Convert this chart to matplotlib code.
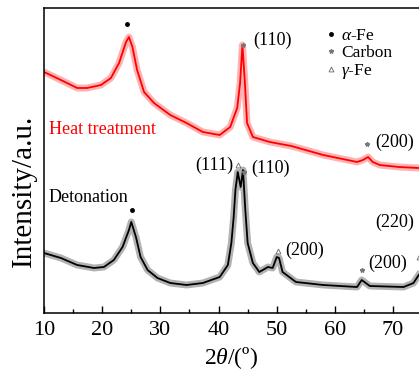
import numpy as np
import matplotlib
matplotlib.use('Agg')
import matplotlib.pyplot as plt
from matplotlib.lines import Line2D
from matplotlib.ticker import MultipleLocator

plt.rcParams['font.family'] = ['Liberation Serif', 'DejaVu Serif']
plt.rcParams['mathtext.fontset'] = 'custom'
plt.rcParams['mathtext.rm'] = 'Liberation Serif'
plt.rcParams['mathtext.it'] = 'Liberation Serif:italic'

# heat treated sample (red)
tt_heat = [10, 12.9, 15.7, 17.4, 19.8, 21.5, 22.9, 24.1, 24.6, 25.2, 26.0, 27.2, 28.9,
           31.7, 34.5, 37.3, 40.2, 42.0, 43.2, 43.7, 44.1, 44.5, 44.9, 45.9, 48.8, 52.5,
           58.0, 63.8, 64.8, 65.7, 66.5, 67.7, 71.0, 74.4]
int_heat = [241, 233, 225, 225, 228, 235, 250, 271, 276, 266, 243, 221, 210,
            198, 190, 181, 178, 186, 205, 230, 268, 233, 190, 176, 171, 167,
            158, 151, 153, 156, 151, 148, 146, 145]

# detonation sample (black)
tt_det = [10, 12.9, 15.7, 18.6, 20.3, 22.0, 23.5, 24.6, 25.0, 25.8, 26.6, 27.8, 29.5,
          31.7, 34.5, 37.3, 40.2, 41.6, 42.2, 42.6, 42.9, 43.3, 43.8, 44.2, 44.6, 45.0,
          45.9, 47.0, 48.5, 49.3, 50.0, 50.4, 51.0, 53.3, 58.0, 63.8, 64.6, 66.0,
          71.8, 73.5, 74.4]
int_det = [60, 55, 48, 45, 46, 53, 66, 83, 91, 76, 56, 43, 35,
           30, 28, 30, 36, 48, 70, 96, 123, 141, 126, 143, 103, 70,
           50, 41, 46, 45, 56, 55, 41, 31, 28, 26, 33, 27,
           26, 30, 38]

# phase markers: (2theta, phase, gap above curve)
marks_heat = [(24.3, 'a', 16), (44.2, 'c', 9), (65.5, 'c', 14)]
marks_det = [(25.1, 'a', 14), (43.4, 'g', 10), (44.3, 'c', 8), (50.3, 'g', 7),
             (64.7, 'c', 10), (74.4, 'g', 18)]

# hkl labels: (text, 2theta, intensity, ha)
hkl_labels = [('(110)', 45.9, 273, 'left'), ('(200)', 66.9, 171, 'left'),
              ('(111)', 42.5, 148, 'right'), ('(110)', 45.7, 145, 'left'),
              ('(200)', 51.4, 63, 'left'), ('(200)', 65.7, 50, 'left'),
              ('(220)', 66.9, 91, 'left')]

mstyle = {'a': dict(marker='o', ms=2.5, color='black', mec='black'),
          'c': dict(marker='*', ms=3.2, color='#777777', mec='#777777'),
          'g': dict(marker='^', ms=3.5, color='none', mec='#666666', mew=0.6)}

fig = plt.figure(figsize=(4.19, 3.72), dpi=100)
ax = fig.add_axes([44 / 419, 59 / 372, 375 / 419, 305 / 372])

ax.plot(tt_heat, int_heat, color='red', lw=5, alpha=0.3)
ax.plot(tt_heat, int_heat, color='red', lw=1.3)
ax.plot(tt_det, int_det, color='black', lw=5, alpha=0.3)
ax.plot(tt_det, int_det, color='black', lw=1.3)

for marks, tt, yy in [(marks_heat, tt_heat, int_heat), (marks_det, tt_det, int_det)]:
    for x, ph, gap in marks:
        y = np.interp(x, tt, yy) + gap
        ax.plot([x], [y], ls='none', clip_on=False, **mstyle[ph])

for txt, x, y, ha in hkl_labels:
    ax.text(x, y, txt, fontsize=13, ha=ha, va='center')

ax.text(10.85, 183, 'Heat treatment', color='red', fontsize=13, va='center')
ax.text(10.85, 116, 'Detonation', color='black', fontsize=13, va='center')

handles = [Line2D([], [], ls='none', **mstyle['a']),
           Line2D([], [], ls='none', **mstyle['c']),
           Line2D([], [], ls='none', **mstyle['g'])]
ax.legend(handles, [r'$\alpha$-Fe', 'Carbon', r'$\gamma$-Fe'], loc='upper left',
          bbox_to_anchor=(0.755, 0.935), frameon=False, fontsize=12.5,
          handlelength=0.5, handletextpad=0.3, labelspacing=0.05,
          borderpad=0, borderaxespad=0)

ax.set_xlim(10, 74.45)
ax.set_ylim(0, 305)
ax.xaxis.set_major_locator(MultipleLocator(10))
ax.xaxis.set_minor_locator(MultipleLocator(5))
ax.tick_params(axis='x', which='major', direction='in', length=5, width=1,
               labelsize=16, pad=6, top=False)
ax.tick_params(axis='x', which='minor', direction='in', length=3, width=1, top=False)
ax.set_yticks([])
ax.spines['right'].set_visible(False)
for s in ['left', 'top', 'bottom']:
    ax.spines[s].set_linewidth(1.1)

ax.set_xlabel(r'2$\theta$/(º)', fontsize=17, va='center')
ax.xaxis.set_label_coords(0.5, -0.1475)
ax.set_ylabel('Intensity/a.u.', fontsize=21, va='center')
ax.yaxis.set_label_coords(-0.053, 0.40)

fig.savefig('out.png', dpi=100)
